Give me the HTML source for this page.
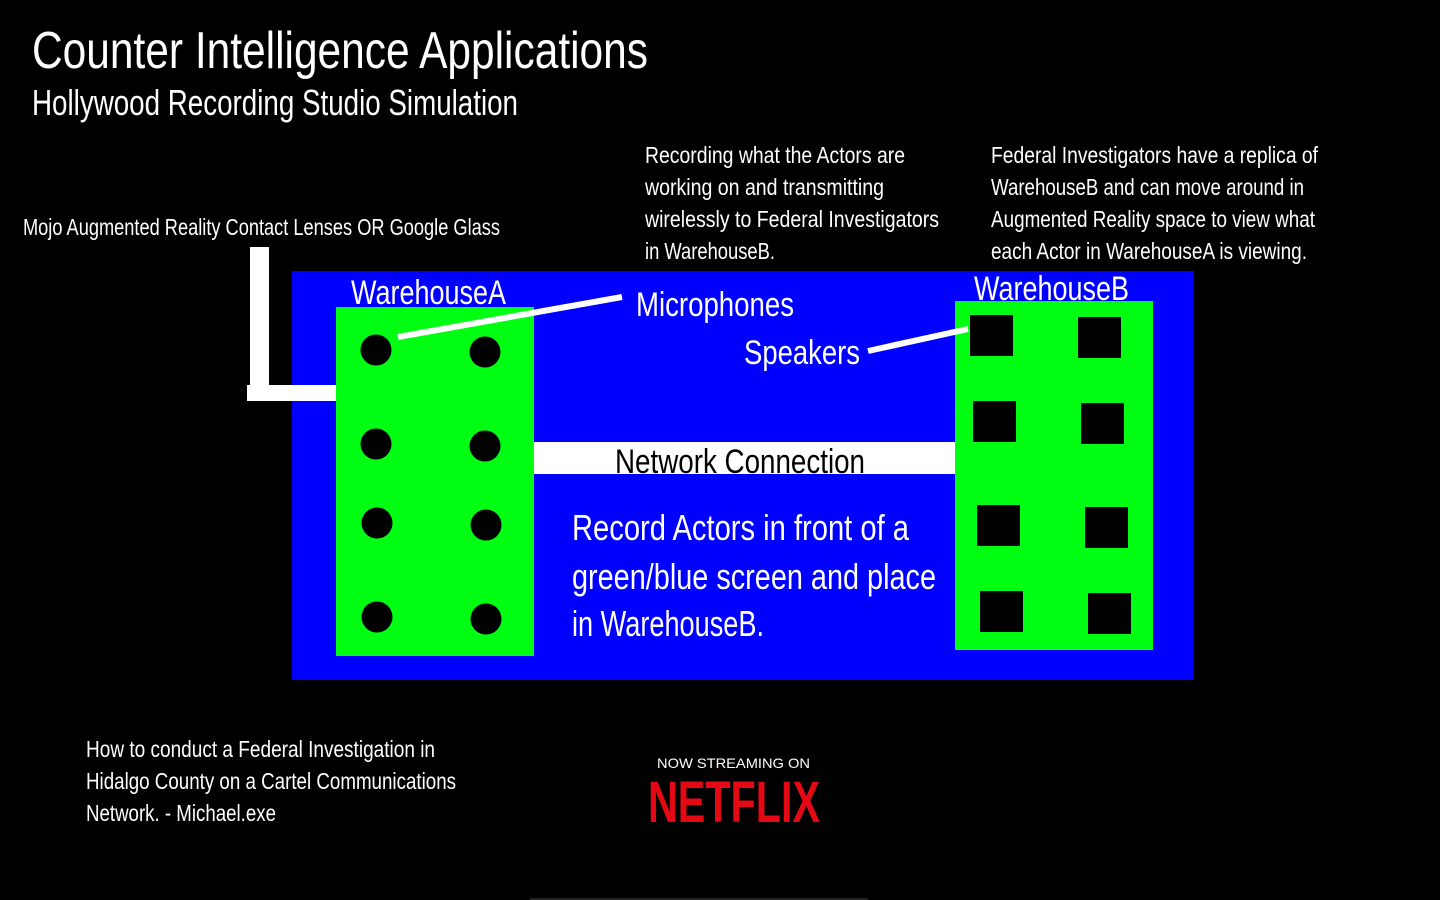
<!DOCTYPE html>
<html><head><meta charset="utf-8"><style>
html,body{margin:0;padding:0;background:#000;width:1440px;height:900px;overflow:hidden}
svg{display:block}
text{font-family:"Liberation Sans",sans-serif;fill:#fff}
</style></head><body>
<svg width="1440" height="900" viewBox="0 0 1440 900" xmlns="http://www.w3.org/2000/svg">
<rect width="1440" height="900" fill="#000"/>
<text x="32" y="68" font-size="52" textLength="616" lengthAdjust="spacingAndGlyphs">Counter Intelligence Applications</text>
<text x="32" y="115" font-size="36" textLength="486" lengthAdjust="spacingAndGlyphs">Hollywood Recording Studio Simulation</text>
<text x="23" y="235" font-size="23" textLength="477" lengthAdjust="spacingAndGlyphs">Mojo Augmented Reality Contact Lenses OR Google Glass</text>
<g font-size="23">
<text x="645" y="163" textLength="260" lengthAdjust="spacingAndGlyphs">Recording what the Actors are</text>
<text x="645" y="195" textLength="239" lengthAdjust="spacingAndGlyphs">working on and transmitting</text>
<text x="645" y="227" textLength="294" lengthAdjust="spacingAndGlyphs">wirelessly to Federal Investigators</text>
<text x="645" y="259" textLength="130" lengthAdjust="spacingAndGlyphs">in WarehouseB.</text>
<text x="991" y="163" textLength="327" lengthAdjust="spacingAndGlyphs">Federal Investigators have a replica of</text>
<text x="991" y="195" textLength="313" lengthAdjust="spacingAndGlyphs">WarehouseB and can move around in</text>
<text x="991" y="227" textLength="324" lengthAdjust="spacingAndGlyphs">Augmented Reality space to view what</text>
<text x="991" y="259" textLength="316" lengthAdjust="spacingAndGlyphs">each Actor in WarehouseA is viewing.</text>
<text x="86" y="757" textLength="349" lengthAdjust="spacingAndGlyphs">How to conduct a Federal Investigation in</text>
<text x="86" y="789" textLength="370" lengthAdjust="spacingAndGlyphs">Hidalgo County on a Cartel Communications</text>
<text x="86" y="821" textLength="190" lengthAdjust="spacingAndGlyphs">Network. - Michael.exe</text>
</g>
<rect x="292" y="271" width="902" height="409" fill="#0000ff"/>
<rect x="250" y="247" width="19" height="150" fill="#fff"/>
<rect x="247" y="385" width="89" height="16" fill="#fff"/>
<rect x="336" y="307" width="198" height="349" fill="#00ff12"/>
<rect x="955" y="301" width="198" height="349" fill="#00ff12"/>
<rect x="534" y="442" width="421" height="32" fill="#fff"/>
<text x="615" y="473" font-size="34" style="fill:#000" textLength="250" lengthAdjust="spacingAndGlyphs">Network Connection</text>
<g fill="#000">
<circle cx="376" cy="350" r="15.5"/><circle cx="485" cy="352" r="15.5"/>
<circle cx="376" cy="444" r="15.5"/><circle cx="485" cy="446" r="15.5"/>
<circle cx="377" cy="523" r="15.5"/><circle cx="486" cy="525" r="15.5"/>
<circle cx="377" cy="617" r="15.5"/><circle cx="486" cy="619" r="15.5"/>
<rect x="970" y="315" width="43" height="41"/><rect x="1078" y="317" width="43" height="41"/>
<rect x="973" y="401" width="43" height="41"/><rect x="1081" y="403" width="43" height="41"/>
<rect x="977" y="505" width="43" height="41"/><rect x="1085" y="507" width="43" height="41"/>
<rect x="980" y="591" width="43" height="41"/><rect x="1088" y="593" width="43" height="41"/>
</g>
<text x="351" y="304" font-size="34" textLength="155" lengthAdjust="spacingAndGlyphs">WarehouseA</text>
<text x="974" y="300" font-size="34" textLength="155" lengthAdjust="spacingAndGlyphs">WarehouseB</text>
<text x="636" y="316" font-size="34" textLength="158" lengthAdjust="spacingAndGlyphs">Microphones</text>
<text x="744" y="364" font-size="34" textLength="116" lengthAdjust="spacingAndGlyphs">Speakers</text>
<line x1="398" y1="337" x2="622" y2="297" stroke="#fff" stroke-width="6"/>
<line x1="868" y1="351" x2="968" y2="329" stroke="#fff" stroke-width="6"/>
<g font-size="36">
<text x="572" y="540" textLength="337" lengthAdjust="spacingAndGlyphs">Record Actors in front of a</text>
<text x="572" y="589" textLength="364" lengthAdjust="spacingAndGlyphs">green/blue screen and place</text>
<text x="572" y="636" textLength="192" lengthAdjust="spacingAndGlyphs">in WarehouseB.</text>
</g>
<text x="657" y="768" font-size="14" textLength="153" lengthAdjust="spacingAndGlyphs">NOW STREAMING ON</text>
<text x="648" y="822" font-size="58" font-weight="bold" style="fill:#e50914" textLength="172" lengthAdjust="spacingAndGlyphs">NETFLIX</text>
<rect x="530" y="898" width="338" height="2" fill="#222"/>
</svg>
</body></html>
